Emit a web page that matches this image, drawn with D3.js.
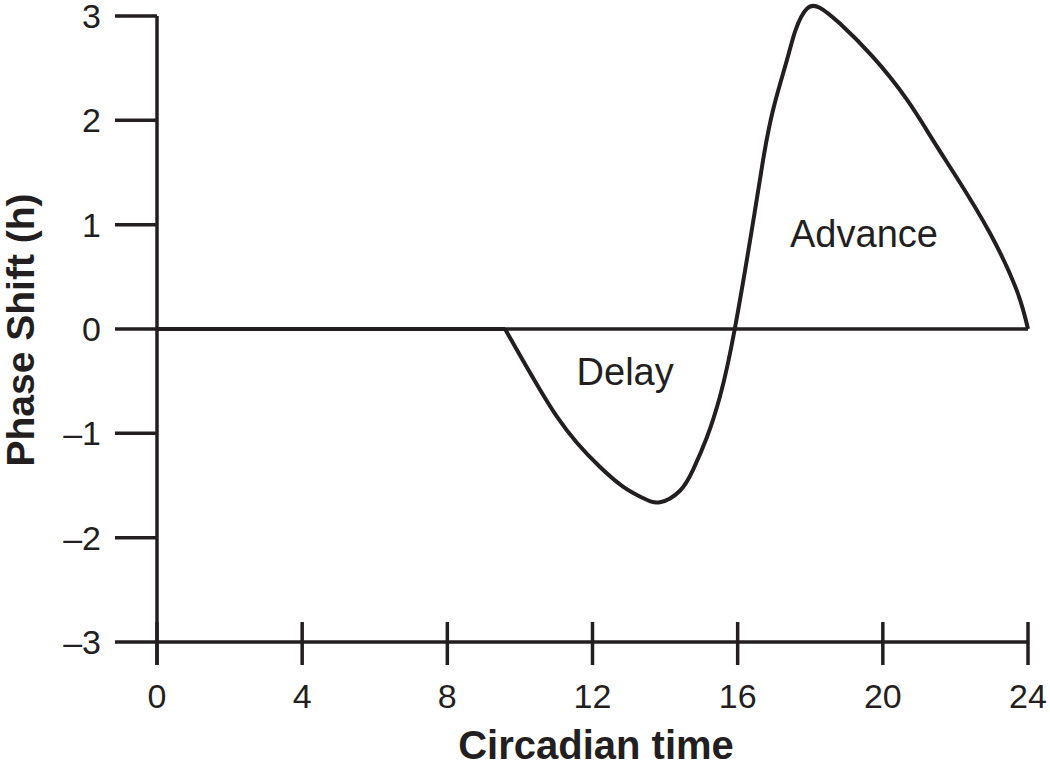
<!DOCTYPE html>
<html>
<head>
<meta charset="utf-8">
<script src="https://cdn.jsdelivr.net/npm/d3@7"></script>
<style>
  body { margin: 0; background: #fff; }
  text { font-family: "Liberation Sans", Arial, sans-serif; fill: #231f20; }
</style>
</head>
<body>
<svg id="chart"></svg>
<script>
// values
var timePoints = [0, 9.59, 10.08, 10.55, 11.02, 11.57, 12.2, 12.84, 13.39, 13.86, 14.41,
  14.77, 15.15, 15.51, 15.92, 16.46, 16.72, 16.99, 17.36, 17.6, 17.91, 18.26,
  18.81, 19.72, 20.66, 21.38, 22.04, 22.95, 23.69, 24];
var shiftValues = [0, 0, -0.30, -0.58, -0.84, -1.09, -1.32, -1.51, -1.62, -1.66, -1.55,
  -1.35, -1.04, -0.65, 0, 1.1, 1.66, 2.12, 2.58, 2.87, 3.07, 3.08,
  2.93, 2.61, 2.2, 1.81, 1.45, 0.92, 0.37, 0];
var xTicks = [0, 4, 8, 12, 16, 20, 24];
var yTicks = [-3, -2, -1, 0, 1, 2, 3];
var regionLabels = [
  { text: "Delay", t: 12.9, v: -0.54 },
  { text: "Advance", t: 19.48, v: 0.79 }
];

var ink = "#231f20";
var width = 1050, height = 766;
var svg = d3.select("#chart").attr("width", width).attr("height", height);

var x = d3.scaleLinear().domain([0, 24]).range([157, 1028]);
var y = d3.scaleLinear().domain([-3, 3]).range([642, 16]);

// y axis: ticks to the left, line runs a bit below -3
svg.append("line")
  .attr("x1", x(0)).attr("x2", x(0))
  .attr("y1", y(3)).attr("y2", y(-3) + 23)
  .style("stroke", ink).style("stroke-width", 3.5);

svg.selectAll(".ytick")
  .data(yTicks)
  .enter()
  .append("line")
  .attr("x1", x(0) - 42).attr("x2", x(0))
  .attr("y1", function (d) { return y(d); })
  .attr("y2", function (d) { return y(d); })
  .style("stroke", ink).style("stroke-width", 3.5);

svg.selectAll(".ylabel")
  .data(yTicks)
  .enter()
  .append("text")
  .attr("x", 101)
  .attr("y", function (d) { return y(d) + 12; })
  .style("text-anchor", "end")
  .style("font-size", "34px")
  .text(function (d) { return d < 0 ? "\u2013" + Math.abs(d) : d; });

// x axis and zero line
svg.append("line")
  .attr("x1", x(0)).attr("x2", x(24))
  .attr("y1", y(-3)).attr("y2", y(-3))
  .style("stroke", ink).style("stroke-width", 3.5);
svg.append("line")
  .attr("x1", x(0)).attr("x2", x(24))
  .attr("y1", y(0)).attr("y2", y(0))
  .style("stroke", ink).style("stroke-width", 3.5);

svg.selectAll(".xtick")
  .data(xTicks)
  .enter()
  .append("line")
  .attr("x1", function (d) { return x(d); })
  .attr("x2", function (d) { return x(d); })
  .attr("y1", y(-3) - 20).attr("y2", y(-3) + 23)
  .style("stroke", ink).style("stroke-width", 3.5);

svg.selectAll(".xlabel")
  .data(xTicks)
  .enter()
  .append("text")
  .attr("x", function (d) { return x(d); })
  .attr("y", 708)
  .style("text-anchor", "middle")
  .style("font-size", "34px")
  .text(function (d) { return d; });

// axis titles
svg.append("text")
  .attr("x", 596).attr("y", 759)
  .style("text-anchor", "middle")
  .style("font-size", "40px")
  .style("font-weight", "bold")
  .text("Circadian time");

svg.append("text")
  .attr("transform", "translate(34,330) rotate(-90)")
  .style("text-anchor", "middle")
  .style("font-size", "39px")
  .style("font-weight", "bold")
  .text("Phase Shift (h)");

// the phase response curve: flat until the delay starts, smooth after
var prc = timePoints.map(function (t, i) { return [t, shiftValues[i]]; });
var startIdx = 1;
var flatPart = prc.slice(0, startIdx + 1);
var wavePart = prc.slice(startIdx);

var flatLine = d3.line()
  .x(function (d) { return x(d[0]); })
  .y(function (d) { return y(d[1]); });
var waveLine = d3.line()
  .x(function (d) { return x(d[0]); })
  .y(function (d) { return y(d[1]); })
  .curve(d3.curveNatural);

svg.append("path")
  .datum(flatPart)
  .attr("d", flatLine)
  .style("fill", "none")
  .style("stroke", ink)
  .style("stroke-width", 4);

svg.append("path")
  .datum(wavePart)
  .attr("d", waveLine)
  .style("fill", "none")
  .style("stroke", ink)
  .style("stroke-width", 4)
  .style("stroke-linejoin", "round");

svg.selectAll(".region")
  .data(regionLabels)
  .enter()
  .append("text")
  .attr("x", function (d) { return x(d.t); })
  .attr("y", function (d) { return y(d.v); })
  .style("text-anchor", "middle")
  .style("font-size", "38px")
  .text(function (d) { return d.text; });
</script>
</body>
</html>
